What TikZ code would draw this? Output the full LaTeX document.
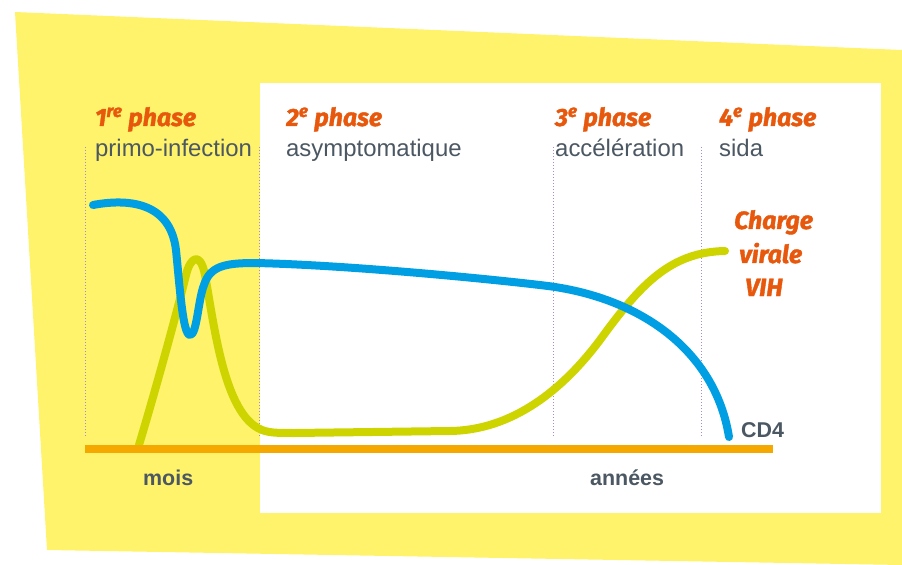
\documentclass[tikz,border=0pt]{standalone}
\usepackage{fontspec}
\setmainfont{Liberation Sans}
\newfontfamily\hfont{Fira Sans}[BoldItalicFeatures={FakeBold=1.5}]
\definecolor{bgyellow}{HTML}{FEF36A}
\definecolor{cdblue}{HTML}{009FE3}
\definecolor{vlime}{HTML}{CDD400}
\definecolor{barorange}{HTML}{F5A800}
\definecolor{txtorange}{HTML}{E8580C}
\definecolor{txtgrey}{HTML}{4B5762}
\definecolor{seppurple}{HTML}{A68BD0}
\tikzset{
  phasehead/.style={font=\hfont\bfseries\itshape\fontsize{25}{29}\selectfont, text=txtorange, inner sep=0pt, anchor=base west},
  phasesub/.style={font=\fontsize{24}{28}\selectfont, text=txtgrey, inner sep=0pt, anchor=base west},
  axislbl/.style={font=\bfseries\fontsize{21.5}{26}\selectfont, text=txtgrey, inner sep=0pt, anchor=base west},
  sepline/.style={seppurple, line width=0.9bp, dash pattern=on 0.9bp off 2.1bp},
  curveline/.style={line width=8bp, line cap=round, line join=round},
}
\begin{document}
\begin{tikzpicture}[x=1bp,y=-1bp]
\useasboundingbox (0,0) rectangle (902,565);
% backgrounds
\fill[bgyellow] (15,12) -- (902,50) -- (902,565) -- (47,550) -- cycle;
\fill[white] (260,83) rectangle (881,513);
% phase separators
\foreach \xx in {85,259,553,701} \draw[sepline] (\xx,147) -- (\xx,437);
% viral load curve
\draw[curveline, vlime] (139,445)
  .. controls (160,375) and (180,300) .. (186,275)
  .. controls (190,258) and (200,250) .. (205,275)
  .. controls (215,330) and (225,420) .. (265,431)
  .. controls (272,433) and (280,433) .. (295,433)
  -- (450,431)
  .. controls (520,430) and (570,380) .. (600,340)
  .. controls (640,285) and (670,252) .. (725,251);
% CD4 curve
\draw[curveline, cdblue] (93,205)
  .. controls (125,199) and (170,200) .. (176,250)
  .. controls (180,290) and (183,335) .. (190,335)
  .. controls (197,335) and (198,300) .. (204,285)
  .. controls (210,266) and (225,263) .. (255,263)
  .. controls (350,265) and (500,280) .. (548,286)
  .. controls (640,298) and (715,350) .. (729,437);
% time axis
\fill[barorange] (85,445) rectangle (773,453);
% phase labels
\node[phasehead] (h1) at (95,126) {1\textsuperscript{re} phase};
\node[phasesub]  (s1) at (95,157) {primo-infection};
\node[phasehead] (h2) at (286,126) {2\textsuperscript{e} phase};
\node[phasesub]  (s2) at (286,157) {asymptomatique};
\node[phasehead] (h3) at (555,126) {3\textsuperscript{e} phase};
\node[phasesub]  (s3) at (555,157) {accélération};
\node[phasehead] (h4) at (719,126) {4\textsuperscript{e} phase};
\node[phasesub]  (s4) at (719,157) {sida};
% curve labels
\node[phasehead] (cv1) at (734,229) {Charge};
\node[phasehead] (cv2) at (739,263) {virale};
\node[phasehead] (cv3) at (745,296) {VIH};
\node[axislbl] (cd4) at (741,437) {CD4};
% axis labels
\node[axislbl] (mois) at (143,485) {mois};
\node[axislbl] (annees) at (590,485) {années};
\end{tikzpicture}
\end{document}
